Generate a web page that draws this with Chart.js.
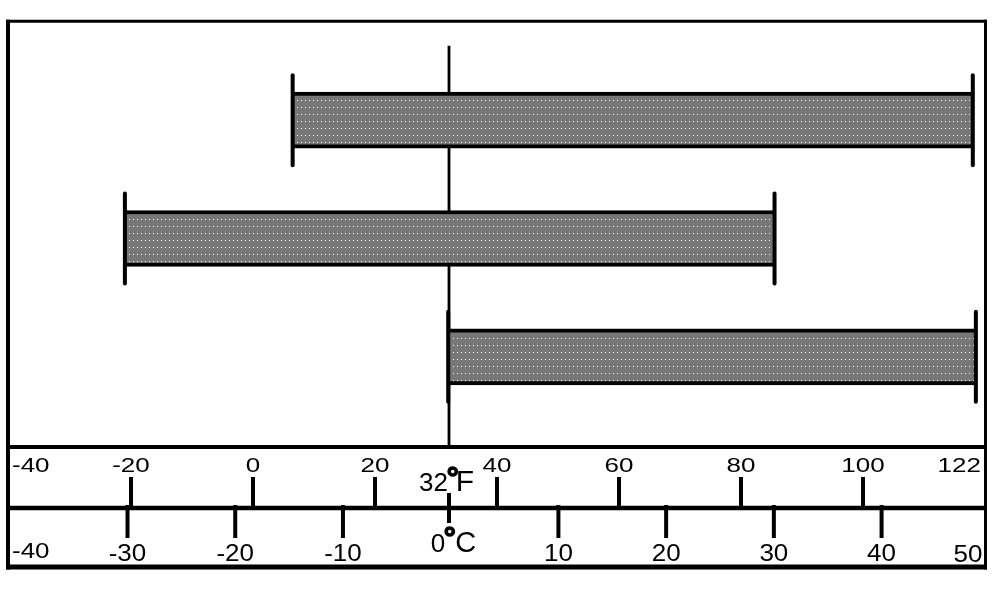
<!DOCTYPE html>
<html>
<head>
<meta charset="utf-8">
<script src="https://cdn.jsdelivr.net/npm/chart.js@4"></script>
<style>
  html, body { margin: 0; padding: 0; background: #ffffff; }
  #wrap { width: 996px; height: 596px; position: relative; }
</style>
</head>
<body>
<div id="wrap"><canvas id="c"></canvas></div>
<script>
// ---- data ----
const categories = ['A', 'B', 'C'];
const lowF  = [6.5, -21, 32];      // bar start, degrees F
const highF = [118, 85.5, 118.5];  // bar end, degrees F
const fTicks = [-20, 0, 20, 40, 60, 80, 100];
const cTicks = [-30, -20, -10, 10, 20, 30, 40];
const fEndLabels = ['-40', '122'];
const cEndLabels = ['-40', '50'];
const freezeF = 32;
const freezeC = 0;

const FONT = "'Liberation Sans', Arial, Helvetica, sans-serif";

// dotted grey fill
function makePattern() {
  const t = document.createElement('canvas');
  t.width = 4; t.height = 7;
  const g = t.getContext('2d');
  g.fillStyle = '#777777';
  g.fillRect(0, 0, 4, 7);
  g.fillStyle = '#ffffff';
  g.fillRect(1, 2, 1, 1);
  return g.createPattern(t, 'repeat');
}

const scaleBands = {
  id: 'scaleBands',
  beforeDatasetsDraw(chart) {
    const ctx = chart.ctx;
    const xF = chart.scales.x;
    const px = xF.getPixelForValue(freezeF);
    ctx.save();
    ctx.strokeStyle = '#000';
    ctx.lineWidth = 2.8;
    ctx.beginPath();
    ctx.moveTo(px + 0.8, 45.7);
    ctx.lineTo(px + 0.8, 447);
    ctx.stroke();
    ctx.restore();
  },
  afterDatasetsDraw(chart) {
    const ctx = chart.ctx;
    // end caps on each bar, positioned by the bar elements
    const meta = chart.getDatasetMeta(0);
    ctx.save();
    ctx.strokeStyle = '#000';
    ctx.lineWidth = 4;
    ctx.lineCap = 'round';
    meta.data.forEach(el => {
      [el.base, el.x].forEach(xx => {
        ctx.beginPath();
        ctx.moveTo(xx, el.y - 45);
        ctx.lineTo(xx, el.y + 45);
        ctx.stroke();
      });
    });
    ctx.restore();
  },
  afterDraw(chart) {
    const ctx = chart.ctx;
    const xF = chart.scales.x;
    const xC = chart.scales.xC;
    ctx.save();
    ctx.strokeStyle = '#000';
    ctx.lineCap = 'butt';
    function line(x1, y1, x2, y2, w) {
      ctx.lineWidth = w;
      ctx.beginPath();
      ctx.moveTo(x1, y1);
      ctx.lineTo(x2, y2);
      ctx.stroke();
    }
    // frame
    line(6, 21.3, 987, 21.3, 3);
    line(8, 19.8, 8, 569.5, 4);
    line(985.5, 19.8, 985.5, 569.5, 3);
    line(6, 567, 987, 567, 5);
    line(6, 447, 987, 447, 4);
    line(6, 508, 987, 508, 4.5);

    // Fahrenheit ticks
    fTicks.forEach(v => {
      const p = xF.getPixelForValue(v);
      line(p, 477, p, 508, 4);
    });
    // Celsius ticks
    cTicks.forEach(v => {
      const p = xC.getPixelForValue(v);
      line(p, 505, p, 538, 4);
    });
    // freezing tick
    const pf = xF.getPixelForValue(freezeF);
    line(pf + 0.8, 493, pf + 0.8, 523, 4);

    ctx.fillStyle = '#000';
    function ftext(txt, x, y, align, font, sy, bold) {
      ctx.save();
      ctx.translate(x, y);
      ctx.scale(1, sy);
      ctx.font = font + 'px ' + FONT;
      ctx.textAlign = align;
      ctx.textBaseline = 'alphabetic';
      ctx.fillText(txt, 0, 0);
      if (bold) {
        ctx.lineWidth = bold;
        ctx.strokeStyle = '#000';
        ctx.strokeText(txt, 0, 0);
      }
      ctx.restore();
    }
    // Fahrenheit labels (slightly squashed vertically)
    fTicks.forEach(v => {
      ftext(String(v), xF.getPixelForValue(v), 471.5, 'center', 26, 0.8);
    });
    ftext(fEndLabels[0], 12, 471.5, 'left', 26, 0.76);
    ftext(fEndLabels[1], 981, 471.5, 'right', 26, 0.8);

    // Celsius labels
    cTicks.forEach(v => {
      ftext(String(v), xC.getPixelForValue(v), 560.5, 'center', 26, 0.93);
    });
    ftext(cEndLabels[0], 12, 558, 'left', 26, 0.85);
    ftext(cEndLabels[1], 982.5, 561.5, 'right', 26, 0.93);

    // 32°F
    ftext(String(freezeF), pf - 0.2, 490.5, 'right', 26, 0.98);
    ftext('°', pf + 4.5, 488, 'center', 'bold 30', 1, 1.4);
    ftext('F', pf + 7.5, 490.5, 'left', 30, 1);
    // 0°C
    const pc = xC.getPixelForValue(freezeC);
    ftext(String(freezeC), pc - 5.5, 551.5, 'right', 26, 1);
    ftext('°', pc - 1, 548, 'center', 'bold 30', 1, 1.4);
    ftext('C', pc + 4.5, 551.5, 'left', 29, 1);
    ctx.restore();
  }
};

new Chart(document.getElementById('c'), {
  type: 'bar',
  data: {
    labels: categories,
    datasets: [{
      data: lowF.map((l, i) => [l, highF[i]]),
      backgroundColor: makePattern(),
      borderColor: '#000',
      borderWidth: { top: 4, bottom: 4, left: 0, right: 0 },
      borderSkipped: false,
      barThickness: 56
    }]
  },
  options: {
    indexAxis: 'y',
    responsive: true,
    maintainAspectRatio: false,
    animation: false,
    layout: { padding: { left: 9, right: 11, top: 61, bottom: 180 } },
    plugins: { legend: { display: false }, tooltip: { enabled: false } },
    scales: {
      x: { type: 'linear', min: -40, max: 120, display: false },
      xC: { type: 'linear', axis: 'x', min: -41, max: 49.6, display: false },
      y: { type: 'category', display: false }
    }
  },
  plugins: [scaleBands]
});
</script>
</body>
</html>
